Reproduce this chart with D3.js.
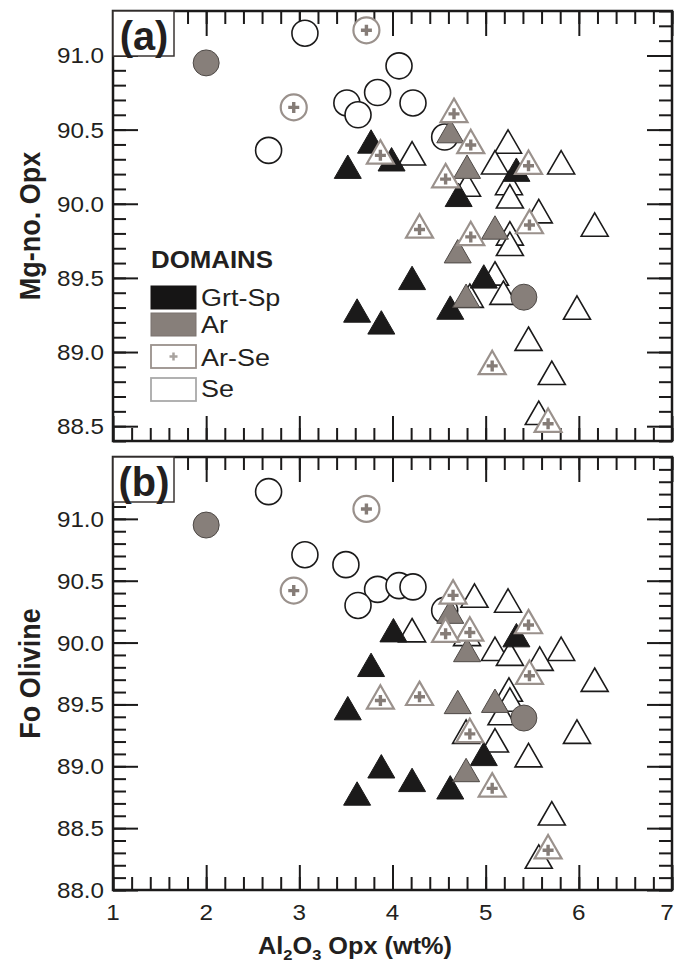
<!DOCTYPE html>
<html>
<head>
<meta charset="utf-8">
<title>Mg-no. Opx and Fo Olivine vs Al2O3 Opx</title>
<script src="https://cdn.jsdelivr.net/npm/d3@7"></script>
<style>
  body { margin: 0; background: #fff; }
  svg text { font-family: Arial, "Liberation Sans", sans-serif; fill: #231f20; }
</style>
</head>
<body>
<div id="chart"></div>
<script>
// legend entries
var domains = ["Grt-Sp", "Ar", "Ar-Se", "Se"];

// tick labels
var xTicks = [1, 2, 3, 4, 5, 6, 7];
var yTicksA = [88.5, 89.0, 89.5, 90.0, 90.5, 91.0];
var yTicksB = [88.0, 88.5, 89.0, 89.5, 90.0, 90.5, 91.0];

// panel (a): [Al2O3 Opx, Mg-no. Opx]
var seCirclesA = [[3.06, 91.15], [4.07, 90.93], [3.84, 90.75], [3.51, 90.68], [4.22, 90.68],
  [3.63, 90.60], [2.67, 90.36], [4.56, 90.45]];
var seTrianglesA = [[5.24, 90.42], [4.21, 90.34], [5.10, 90.28], [5.81, 90.28], [4.80, 90.13],
  [5.25, 90.14], [5.26, 90.05], [5.57, 89.95], [6.17, 89.86], [5.26, 89.80], [5.26, 89.73],
  [5.10, 89.53], [4.83, 89.38], [5.19, 89.40], [5.98, 89.30], [5.46, 89.09], [5.71, 88.86],
  [5.57, 88.59]];
var grtSpA = [[3.77, 90.42], [3.52, 90.25], [3.99, 90.30], [5.33, 90.23], [4.71, 90.06],
  [4.21, 89.50], [4.98, 89.51], [4.62, 89.30], [3.62, 89.28], [3.88, 89.20]];
var arCirclesA = [[2.00, 90.95], [5.41, 89.37]];
var arTrianglesA = [[4.62, 90.49], [4.80, 90.25], [5.10, 89.84], [4.70, 89.68], [4.79, 89.38]];
var arSeCirclesA = [[3.72, 91.17], [2.94, 90.65]];
var arSeTrianglesA = [[4.66, 90.63], [4.84, 90.42], [3.87, 90.35], [5.46, 90.28], [4.57, 90.19],
  [5.47, 89.88], [4.29, 89.85], [4.84, 89.80], [5.07, 88.93], [5.67, 88.54]];

// panel (b): [Al2O3 Opx, Fo Olivine]
var seCirclesB = [[2.67, 91.22], [3.06, 90.71], [3.50, 90.63], [3.84, 90.43], [4.07, 90.46],
  [4.22, 90.45], [3.63, 90.30], [4.56, 90.26]];
var seTrianglesB = [[4.88, 90.38], [5.24, 90.34], [4.21, 90.10], [4.80, 90.07], [5.10, 89.95],
  [5.81, 89.95], [5.26, 89.91], [5.58, 89.87], [6.17, 89.70], [5.25, 89.62], [5.26, 89.54],
  [5.17, 89.43], [4.79, 89.28], [5.98, 89.28], [5.10, 89.21], [5.46, 89.09], [5.71, 88.62],
  [5.57, 88.27]];
var grtSpB = [[4.01, 90.10], [5.33, 90.06], [3.77, 89.82], [3.52, 89.47], [4.98, 89.10],
  [3.88, 89.00], [4.21, 88.89], [4.62, 88.83], [3.62, 88.78]];
var arCirclesB = [[2.00, 90.95], [5.41, 89.39]];
var arTrianglesB = [[4.62, 90.25], [4.80, 89.94], [5.10, 89.53], [4.70, 89.52], [4.79, 88.97]];
var arSeCirclesB = [[3.72, 91.08], [2.94, 90.42]];
var arSeTrianglesB = [[4.65, 90.41], [5.46, 90.17], [4.83, 90.11], [4.57, 90.10], [5.47, 89.76],
  [4.29, 89.59], [3.87, 89.56], [4.83, 89.29], [5.07, 88.85], [5.67, 88.35]];

var W = 676, H = 962;
var left = 113, right = 672;

var svg = d3.select("#chart").append("svg")
  .attr("width", W)
  .attr("height", H);

var x = d3.scaleLinear().domain([1, 7]).range([left, right]);
var yA = d3.scaleLinear().domain([88.4, 91.3]).range([441, 11]);
var yB = d3.scaleLinear().domain([88.0, 91.5]).range([890, 457]);

var black = "#1b1a1a", gray = "#877f7a", arSeLine = "#9a918c", plusColor = "#857c77";
var triPath = "M0,-11.7L13.5,11.7L-13.5,11.7Z";
var plusPath = "M-5.5,0H5.5M0,-5.5V5.5";

// text is slightly wide in the original, so stretch it a little
function label(g, px, py, str, size, weight, anchor) {
  return g.append("text")
    .attr("transform", "translate(" + px + "," + py + ") scale(1.1,1)")
    .attr("text-anchor", anchor || "start")
    .attr("font-size", size)
    .attr("font-weight", weight || "normal")
    .text(str);
}

function ticks(g, y, minorY, majorY) {
  var top = y.range()[1], bottom = y.range()[0];
  var minorX = d3.range(0, 31).map(function(i) { return 1 + i * 0.2; });
  var defs = [
    [d3.axisBottom(x).tickValues(minorX), 13, "translate(0," + bottom + ")"],
    [d3.axisBottom(x).tickValues(xTicks), 25, "translate(0," + bottom + ")"],
    [d3.axisTop(x).tickValues(minorX), 13, "translate(0," + top + ")"],
    [d3.axisTop(x).tickValues(xTicks), 25, "translate(0," + top + ")"],
    [d3.axisLeft(y).tickValues(minorY), 13, "translate(" + left + ",0)"],
    [d3.axisLeft(y).tickValues(majorY), 25, "translate(" + left + ",0)"],
    [d3.axisRight(y).tickValues(minorY), 13, "translate(" + right + ",0)"],
    [d3.axisRight(y).tickValues(majorY), 25, "translate(" + right + ",0)"]
  ];
  defs.forEach(function(d) {
    var a = g.append("g").attr("transform", d[2])
      .call(d[0].tickSize(-d[1]).tickFormat(""));
    a.select(".domain").remove();
    a.selectAll("line").attr("stroke", black).attr("stroke-width", 2);
  });
}

function circles(g, data, y, fill, stroke, sw, plus) {
  var c = g.append("g").selectAll("g").data(data).enter().append("g")
    .attr("transform", function(d) { return "translate(" + x(d[0]) + "," + y(d[1]) + ")"; });
  c.append("circle").attr("r", 13)
    .attr("fill", fill).attr("stroke", stroke).attr("stroke-width", sw);
  if (plus) {
    c.append("path").attr("d", plusPath)
      .attr("stroke", plusColor).attr("stroke-width", 3.4).attr("fill", "none");
  }
}

function triangles(g, data, y, fill, stroke, sw, plus) {
  var t = g.append("g").selectAll("g").data(data).enter().append("g")
    .attr("transform", function(d) { return "translate(" + x(d[0]) + "," + y(d[1]) + ")"; });
  t.append("path").attr("d", triPath)
    .attr("fill", fill).attr("stroke", stroke).attr("stroke-width", sw)
    .attr("stroke-linejoin", "miter");
  if (plus) {
    t.append("path").attr("d", plusPath).attr("transform", "translate(0,3.5)")
      .attr("stroke", plusColor).attr("stroke-width", 3.4).attr("fill", "none");
  }
}

function panel(y, tag, yTicks, minorY, s) {
  var g = svg.append("g");
  var top = y.range()[1], bottom = y.range()[0];

  ticks(g, y, minorY, yTicks);

  // points, drawn Se first so the filled domains sit on top
  circles(g, s.seC, y, "#fff", black, 1.6, false);
  triangles(g, s.seT, y, "#fff", black, 1.6, false);
  triangles(g, s.grt, y, black, black, 1, false);
  circles(g, s.arC, y, gray, "#4e4946", 1, false);
  triangles(g, s.arT, y, gray, "#4e4946", 1, false);
  circles(g, s.arSeC, y, "#fff", arSeLine, 2.2, true);
  triangles(g, s.arSeT, y, "#fff", arSeLine, 2.2, true);

  g.append("rect")
    .attr("x", left).attr("y", top)
    .attr("width", right - left).attr("height", bottom - top)
    .attr("fill", "none").attr("stroke", black).attr("stroke-width", 2.5);

  // panel tag
  g.append("rect")
    .attr("x", left).attr("y", top)
    .attr("width", 61).attr("height", 45)
    .attr("fill", "#fff").attr("stroke", "#3a3533").attr("stroke-width", 1.5);
  g.append("text")
    .attr("transform", "translate(" + (left + 31) + "," + (top + 39) + ") scale(0.97,1)")
    .attr("text-anchor", "middle").attr("font-size", 41).attr("font-weight", "bold")
    .text(tag);

  yTicks.forEach(function(v) {
    label(g, 104, y(v) + 8, v.toFixed(1), 22, "normal", "end");
  });
  return g;
}

var minorYA = d3.range(0, 30).map(function(i) { return 88.4 + i * 0.1; });
var minorYB = d3.range(0, 36).map(function(i) { return 88.0 + i * 0.1; });

panel(yA, "(a)", yTicksA, minorYA, {
  seC: seCirclesA, seT: seTrianglesA, grt: grtSpA, arC: arCirclesA,
  arT: arTrianglesA, arSeC: arSeCirclesA, arSeT: arSeTrianglesA
});
panel(yB, "(b)", yTicksB, minorYB, {
  seC: seCirclesB, seT: seTrianglesB, grt: grtSpB, arC: arCirclesB,
  arT: arTrianglesB, arSeC: arSeCirclesB, arSeT: arSeTrianglesB
});

// x tick labels (bottom panel only); the last one is pulled in to stay on the page
xTicks.forEach(function(v) {
  label(svg, Math.min(x(v), right - 5), 920, String(v), 22, "normal", "middle");
});

// axis titles
var xt = svg.append("text")
  .attr("transform", "translate(355,954) scale(1.1,1)")
  .attr("text-anchor", "middle").attr("font-size", 23).attr("font-weight", "bold");
xt.append("tspan").text("Al");
xt.append("tspan").attr("font-size", 15).attr("dy", 6).text("2");
xt.append("tspan").attr("dy", -6).text("O");
xt.append("tspan").attr("font-size", 15).attr("dy", 6).text("3");
xt.append("tspan").attr("dy", -6).text(" Opx (wt%)");

[["Mg-no. Opx", (yA.range()[0] + yA.range()[1]) / 2], ["Fo Olivine", (yB.range()[0] + yB.range()[1]) / 2]]
  .forEach(function(d) {
    svg.append("text")
      .attr("transform", "translate(40," + d[1] + ") rotate(-90) scale(1,1.1)")
      .attr("text-anchor", "middle").attr("font-size", 27).attr("font-weight", "bold")
      .text(d[0]);
  });

// legend
var legend = svg.append("g");
label(legend, 151, 268, "DOMAINS", 23.5, "bold", "start");
var swTop = [286, 313, 345, 378];
var swFill = ["#161515", gray, "#fff", "#fff"];
var swStroke = ["#161515", "#7a736f", arSeLine, "#a9a9a9"];
var swText = [306, 333, 366, 397];
domains.forEach(function(name, i) {
  legend.append("rect")
    .attr("x", 151).attr("y", swTop[i])
    .attr("width", 45).attr("height", 23)
    .attr("fill", swFill[i]).attr("stroke", swStroke[i])
    .attr("stroke-width", i < 2 ? 1 : 1.8);
  if (name === "Ar-Se") {
    legend.append("path").attr("d", "M-4,0H4M0,-4V4")
      .attr("transform", "translate(173.5," + (swTop[i] + 11.5) + ")")
      .attr("stroke", "#a8a29e").attr("stroke-width", 2.5);
  }
  label(legend, 201, swText[i], name, 24.5, "normal", "start");
});
</script>
</body>
</html>
